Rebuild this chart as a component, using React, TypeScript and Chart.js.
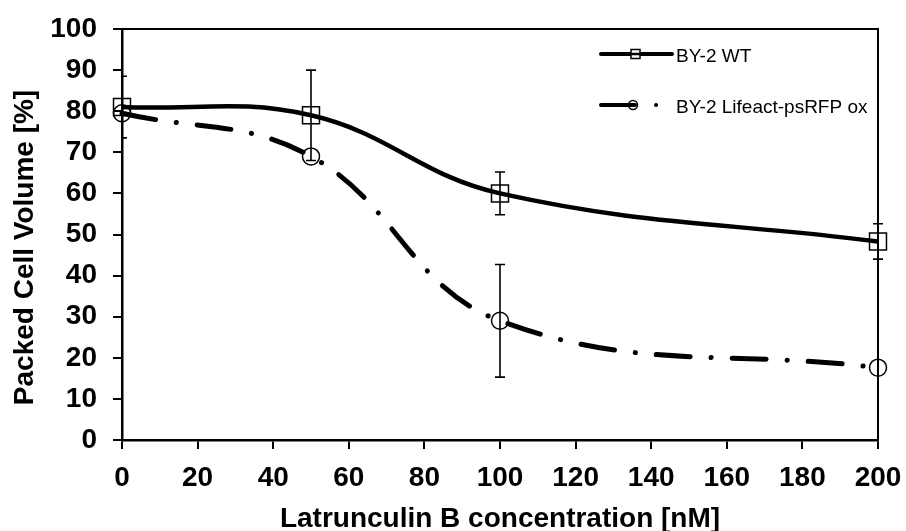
import React, { useEffect, useRef } from "react";
import { Chart, registerables } from "chart.js";

Chart.register(...registerables);

// ---- data ----
const concentrations = [0, 50, 100, 200];
const wtMean = [81, 79, 60, 48.3];
const wtErr = [7.5, 11, 5.2, 4.3];
const lifeactMean = [79.5, 69, 29, 17.6];
const lifeactErr = [0, 0, 13.7, 0];
const seriesLabels = ["BY-2 WT", "BY-2 Lifeact-psRFP ox"];
const xTitle = "Latrunculin B concentration [nM]";
const yTitle = "Packed Cell Volume [%]";
const xMin = 0, xMax = 200, xStep = 20;
const yMin = 0, yMax = 100, yStep = 10;

const FONT = "'Liberation Sans', Arial, sans-serif";
const DASH = [34, 21, 0.1, 21];

const errorBarPlugin = {
  id: "errorBars",
  beforeDatasetsDraw(chart: any) {
    const { ctx, chartArea, scales } = chart;
    const sx = scales.x, sy = scales.y;
    const sets = [
      { mean: wtMean, err: wtErr },
      { mean: lifeactMean, err: lifeactErr },
    ];
    ctx.save();
    ctx.beginPath();
    ctx.rect(chartArea.left, 0, chart.width - chartArea.left, chart.height);
    ctx.clip();
    ctx.strokeStyle = "#000";
    ctx.lineWidth = 1.6;
    const cap = 5;
    sets.forEach((s) => {
      concentrations.forEach((c, i) => {
        const e = s.err[i];
        if (!e) return;
        const x = sx.getPixelForValue(c);
        const yT = sy.getPixelForValue(s.mean[i] + e);
        const yB = sy.getPixelForValue(s.mean[i] - e);
        ctx.beginPath();
        ctx.moveTo(x, yT);
        ctx.lineTo(x, yB);
        ctx.moveTo(x - cap, yT);
        ctx.lineTo(x + cap, yT);
        ctx.moveTo(x - cap, yB);
        ctx.lineTo(x + cap, yB);
        ctx.stroke();
      });
    });
    ctx.restore();
  },
};

const decorPlugin = {
  id: "decor",
  afterDraw(chart: any) {
    const { ctx, chartArea } = chart;
    const { left, right, top, bottom } = chartArea;
    ctx.save();
    // frame top/right
    ctx.strokeStyle = "#000";
    ctx.lineWidth = 2;
    ctx.beginPath();
    ctx.moveTo(left, top);
    ctx.lineTo(right, top);
    ctx.lineTo(right, bottom);
    ctx.stroke();

    // axis titles
    ctx.fillStyle = "#000";
    ctx.font = `bold 28px ${FONT}`;
    ctx.textAlign = "center";
    ctx.textBaseline = "alphabetic";
    ctx.fillText(xTitle, (left + right) / 2, 527);
    ctx.save();
    ctx.translate(33, (top + bottom) / 2 + 13);
    ctx.rotate(-Math.PI / 2);
    ctx.fillText(yTitle, 0, 0);
    ctx.restore();

    // legend
    const lx0 = right - 277, lx1 = right - 206, tx = right - 202;
    const rows = [top + 25, top + 76];
    ctx.lineCap = "round";
    // row 1: WT
    ctx.lineWidth = 4;
    ctx.setLineDash([]);
    ctx.beginPath();
    ctx.moveTo(lx0, rows[0]);
    ctx.lineTo(lx1, rows[0]);
    ctx.stroke();
    ctx.fillStyle = "#fff";
    ctx.fillRect(lx0 + 30, rows[0] - 4.5, 9, 9);
    ctx.beginPath();
    ctx.moveTo(lx0 + 30, rows[0]);
    ctx.lineTo(lx0 + 39, rows[0]);
    ctx.lineWidth = 2.5;
    ctx.stroke();
    ctx.lineWidth = 1.5;
    ctx.strokeRect(lx0 + 30, rows[0] - 4.5, 9, 9);
    // row 2: Lifeact
    ctx.lineWidth = 4;
    ctx.setLineDash(DASH);
    ctx.beginPath();
    ctx.moveTo(lx0, rows[1]);
    ctx.lineTo(lx1, rows[1]);
    ctx.stroke();
    ctx.setLineDash([]);
    ctx.lineWidth = 1.5;
    ctx.beginPath();
    ctx.arc(lx0 + 32, rows[1], 4.5, 0, Math.PI * 2);
    ctx.stroke();

    ctx.fillStyle = "#000";
    ctx.font = `19px ${FONT}`;
    ctx.textAlign = "left";
    ctx.textBaseline = "alphabetic";
    ctx.fillText(seriesLabels[0], tx, rows[0] + 7.5);
    ctx.fillText(seriesLabels[1], tx, rows[1] + 7.5);
    ctx.restore();
  },
};

export default function App() {
  const ref = useRef<HTMLCanvasElement | null>(null);
  useEffect(() => {
    if (!ref.current) return;
    const chart = new Chart(ref.current, {
      type: "line",
      data: {
        datasets: [
          {
            label: seriesLabels[0],
            data: concentrations.map((c, i) => ({ x: c, y: wtMean[i] })),
            borderColor: "#000",
            borderWidth: 4.5,
            tension: 0.4,
            pointStyle: "rect",
            pointRadius: 12,
            pointBorderWidth: 1.5,
            pointBorderColor: "#000",
            pointBackgroundColor: "rgba(0,0,0,0)",
            clip: false as any,
          },
          {
            label: seriesLabels[1],
            data: concentrations.map((c, i) => ({ x: c, y: lifeactMean[i] })),
            borderColor: "#000",
            borderWidth: 5,
            borderDash: DASH,
            borderCapStyle: "round",
            tension: 0.4,
            pointStyle: "circle",
            pointRadius: 8.5,
            pointBorderWidth: 1.5,
            pointBorderColor: "#000",
            pointBackgroundColor: "rgba(0,0,0,0)",
            clip: false as any,
          },
        ],
      },
      options: {
        animation: false,
        responsive: false,
        events: [],
        layout: { padding: { top: 29, right: 28, left: 0, bottom: 0 } },
        plugins: {
          legend: { display: false },
          tooltip: { enabled: false },
          title: { display: false },
        },
        scales: {
          x: {
            type: "linear",
            min: xMin,
            max: xMax,
            afterFit: (s: any) => {
              s.height = 91;
              s.paddingLeft = 0;
              s.paddingRight = 0;
            },
            ticks: {
              stepSize: xStep,
              padding: 12,
              color: "#000",
              font: { family: FONT, size: 28, weight: "bold" },
              maxRotation: 0,
            },
            grid: {
              drawOnChartArea: false,
              drawTicks: true,
              tickLength: 9,
              color: "#000",
              lineWidth: 2,
            },
            border: { display: true, color: "#000", width: 2.5 },
          },
          y: {
            type: "linear",
            min: yMin,
            max: yMax,
            afterFit: (s: any) => {
              s.width = 122;
              s.paddingTop = 0;
              s.paddingBottom = 0;
            },
            ticks: {
              stepSize: yStep,
              padding: 16,
              color: "#000",
              font: { family: FONT, size: 28, weight: "bold" },
            },
            grid: {
              drawOnChartArea: false,
              drawTicks: true,
              tickLength: 9,
              color: "#000",
              lineWidth: 2,
            },
            border: { display: true, color: "#000", width: 2.5 },
          },
        },
      },
      plugins: [errorBarPlugin, decorPlugin],
    } as any);
    return () => chart.destroy();
  }, []);
  return (
    <div style={{ position: "absolute", left: 0, top: 0, width: 906, height: 531, background: "#fff" }}>
      <canvas ref={ref} width={906} height={531} style={{ display: "block" }} />
    </div>
  );
}
